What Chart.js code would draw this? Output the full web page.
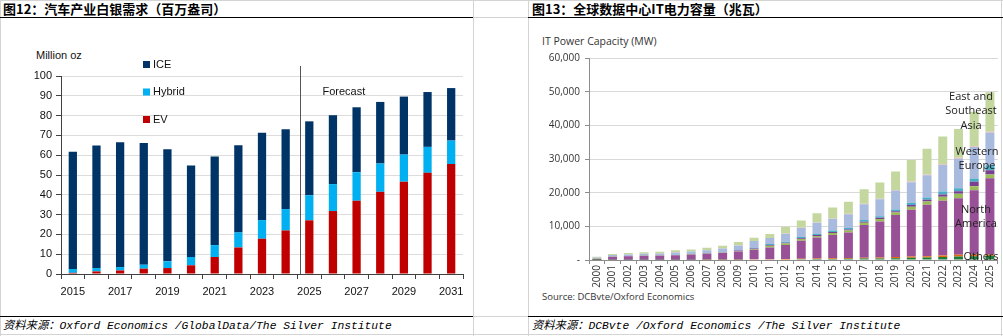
<!DOCTYPE html>
<html>
<head>
<meta charset="utf-8">
<script src="https://cdn.jsdelivr.net/npm/chart.js@4.4.0/dist/chart.umd.min.js"></script>
<style>
  body { margin: 0; background: #fff; width: 1003px; height: 336px; overflow: hidden; position: relative; }
  .abs { position: absolute; }
  .title { font-family: "Noto Sans CJK SC", sans-serif; font-weight: bold; font-size: 13px; line-height: 16px; top: 1px; color: #000; white-space: nowrap; }
  .foot { font-family: "Liberation Mono", "Noto Sans CJK SC", monospace; font-style: italic; font-size: 11.3px; line-height: 16px; top: 318px; color: #000; white-space: nowrap; }
  .grey { background: #d4d4d4; }
  .black { background: #000; }
  .note { font-family: "Open Sans", sans-serif; color: #333; white-space: nowrap; }
  canvas { position: absolute; }
</style>
</head>
<body>
  <!-- cell borders -->
  <div class="abs grey" style="left:0;top:0;width:1003px;height:1px"></div>
  <div class="abs grey" style="left:0;top:0;width:1px;height:336px"></div>
  <div class="abs grey" style="left:473px;top:0;width:1px;height:336px"></div>
  <div class="abs grey" style="left:528px;top:0;width:1px;height:336px"></div>
  <div class="abs grey" style="left:1001px;top:0;width:1px;height:336px"></div>
  <div class="abs grey" style="left:473px;top:17px;width:55px;height:1px"></div>
  <div class="abs grey" style="left:473px;top:316px;width:55px;height:1px"></div>
  <div class="abs grey" style="left:0;top:334px;width:1003px;height:1px"></div>
  <div class="abs black" style="left:0;top:17px;width:473px;height:1px"></div>
  <div class="abs black" style="left:528px;top:17px;width:475px;height:1px"></div>
  <div class="abs black" style="left:0;top:316px;width:473px;height:1px"></div>
  <div class="abs black" style="left:528px;top:316px;width:475px;height:1px"></div>

  <div class="abs title" style="left:3px">图12：汽车产业白银需求（百万盎司）</div>
  <div class="abs title" style="left:532px">图13：全球数据中心IT电力容量（兆瓦）</div>

  <div class="abs" style="left:36px;top:49px;font-family:'Liberation Sans',sans-serif;font-size:11px;color:#111">Million oz</div>
  <div class="abs note" style="left:542px;top:34px;font-size:10.5px">IT Power Capacity (MW)</div>
  <div class="abs note" style="left:542px;top:290px;font-size:9.5px">Source: DCBvte/Oxford Economics</div>

  <canvas id="silver" width="473" height="297" style="left:0;top:18px"></canvas>
  <canvas id="power" width="475" height="297" style="left:528px;top:18px"></canvas>

  <div class="abs foot" style="left:3px">资料来源：Oxford Economics /GlobalData/The Silver Institute</div>
  <div class="abs foot" style="left:532px">资料来源：DCBvte /Oxford Economics /The Silver Institute</div>

<script>
// automotive silver demand, million oz
const silverYears = ['2015', '2016', '2017', '2018', '2019', '2020', '2021', '2022', '2023',
  '2024', '2025', '2026', '2027', '2028', '2029', '2030', '2031'];
const evDemand = [0.6, 1.3, 1.8, 2.7, 3.0, 4.4, 8.6, 13.4, 17.8, 22.0, 27.1, 31.8, 37.0, 41.5, 46.6, 51.1, 55.5];
const hybridDemand = [1.9, 1.7, 1.7, 2.0, 3.4, 4.2, 6.0, 7.6, 9.4, 10.8, 12.7, 13.6, 14.4, 14.3, 13.7, 13.1, 11.9];
const iceDemand = [59.2, 61.9, 63.1, 61.5, 56.6, 46.2, 44.7, 44.0, 44.1, 40.3, 37.3, 34.8, 32.8, 31.1, 29.3, 27.7, 26.5];
const firstForecastYear = '2025';

// data centre IT power capacity by region, MW
const powerYears = ['2000', '2001', '2002', '2003', '2004', '2005', '2006', '2007', '2008', '2009',
  '2010', '2011', '2012', '2013', '2014', '2015', '2016', '2017', '2018', '2019',
  '2020', '2021', '2022', '2023', '2024', '2025'];
const othersMW = [30, 40, 40, 50, 50, 60, 70, 80, 90, 110, 130, 150, 180, 220, 260, 300, 350, 420, 480, 550, 650, 750, 900, 1050, 1150, 1250];
const oceaniaMW = [20, 30, 30, 30, 30, 40, 40, 50, 60, 70, 80, 100, 120, 140, 160, 190, 210, 250, 280, 320, 360, 380, 450, 500, 450, 400];
const northAmericaMW = [350, 930, 1010, 1200, 1200, 1280, 1560, 1740, 1920, 2380, 2840, 3500, 4140, 5370, 6290, 6910, 7630, 9700, 10690, 12460, 13900, 15260, 16220, 16810, 19130, 22630];
const latinAmericaMW = [25, 45, 55, 55, 65, 70, 80, 95, 110, 150, 220, 450, 450, 490, 450, 620, 580, 670, 710, 750, 930, 980, 1250, 1330, 1200, 1100];
const middleEastMW = [10, 25, 25, 25, 30, 40, 45, 50, 60, 80, 120, 230, 230, 250, 230, 330, 300, 350, 370, 400, 500, 520, 650, 700, 1280, 1280];
const easternEuropeMW = [15, 30, 40, 40, 45, 50, 55, 65, 80, 110, 160, 310, 310, 340, 310, 440, 410, 460, 500, 520, 640, 670, 870, 930, 980, 1470];
const westernEuropeMW = [300, 350, 450, 450, 530, 710, 650, 820, 1080, 1430, 2070, 1760, 2370, 2670, 3360, 3450, 4140, 4730, 5040, 5630, 6120, 6610, 7890, 8780, 9370, 9670];
const africaMW = [10, 10, 10, 10, 10, 20, 20, 20, 30, 40, 50, 60, 70, 80, 100, 110, 120, 140, 150, 170, 190, 200, 220, 240, 260, 280];
const eastAsiaMW = [240, 310, 410, 410, 500, 590, 630, 730, 810, 950, 930, 1140, 2000, 2190, 2760, 3250, 3540, 4310, 4780, 5460, 6420, 7700, 8270, 8550, 10180, 11770];

// left chart: hand-placed legend and the forecast divider
const silverDecor = {
  id: 'silverDecor',
  afterDraw(chart) {
    const { ctx, scales: { x, y } } = chart;
    ctx.save();
    ctx.font = '11px "Liberation Sans", Arial, sans-serif';
    ctx.textBaseline = 'middle';
    const order = [2, 1, 0];
    order.forEach((di, row) => {
      const ds = chart.data.datasets[di];
      const top = 43 + row * 27.5;
      ctx.fillStyle = ds.backgroundColor;
      ctx.fillRect(143, top, 7, 7);
      ctx.fillStyle = '#111';
      ctx.fillText(ds.label, 153, top + 3.5);
    });
    const idx = chart.data.labels.indexOf(firstForecastYear);
    const xLine = Math.round((x.getPixelForValue(idx - 1) + x.getPixelForValue(idx)) / 2) + 3.5;
    ctx.strokeStyle = '#555';
    ctx.lineWidth = 1;
    ctx.beginPath();
    ctx.moveTo(xLine, chart.chartArea.top - 10);
    ctx.lineTo(xLine, y.bottom);
    ctx.stroke();
    ctx.fillStyle = '#111';
    ctx.fillText('Forecast', xLine + 22, 74);
    ctx.restore();
  }
};

new Chart(document.getElementById('silver'), {
  type: 'bar',
  data: {
    labels: silverYears,
    datasets: [
      { label: 'EV', data: evDemand, backgroundColor: '#c00000' },
      { label: 'Hybrid', data: hybridDemand, backgroundColor: '#00b0f0' },
      { label: 'ICE', data: iceDemand, backgroundColor: '#003366' }
    ]
  },
  options: {
    responsive: false,
    animation: false,
    layout: { padding: { top: 58, right: 10, left: 0, bottom: 0 } },
    datasets: { bar: { categoryPercentage: 1, barPercentage: 0.35 } },
    plugins: { legend: { display: false }, tooltip: { enabled: false } },
    scales: {
      x: {
        stacked: true,
        grid: { offset: true, drawOnChartArea: false, tickLength: 5, tickColor: '#404040' },
        border: { color: '#404040' },
        ticks: {
          autoSkip: false, maxRotation: 0, padding: 6, color: '#111',
          font: { family: '"Liberation Sans", Arial, sans-serif', size: 11 },
          callback: (v, i) => (i % 2 === 0 ? silverYears[i] : '')
        },
        afterFit: s => { s.height = 41; }
      },
      y: {
        stacked: true, min: 0, max: 100,
        grid: { color: '#dcdcdc', tickLength: 5, tickColor: '#404040' },
        border: { color: '#404040' },
        ticks: { stepSize: 10, padding: 4, color: '#111', font: { family: '"Liberation Sans", Arial, sans-serif', size: 11 } },
        afterFit: s => { s.width = 61; }
      }
    }
  },
  plugins: [silverDecor]
});

// right chart: region names written beside the last bars
const regionNotes = [
  { lines: ['East and', 'Southeast', 'Asia'], x: 443, y: 79 },
  { lines: ['Western', 'Europe'], x: 449, y: 134 },
  { lines: ['North', 'America'], x: 448, y: 192 },
  { lines: ['Others'], x: 453, y: 239 }
];
const powerNotes = {
  id: 'powerNotes',
  afterDraw(chart) {
    const { ctx } = chart;
    ctx.save();
    ctx.font = '11px "Open Sans", sans-serif';
    ctx.fillStyle = '#222';
    ctx.textAlign = 'center';
    ctx.textBaseline = 'middle';
    regionNotes.forEach(n => n.lines.forEach((t, i) => ctx.fillText(t, n.x, n.y + i * 14.2)));
    ctx.restore();
  }
};

const powerFont = { family: '"Open Sans", sans-serif', size: 10 };
new Chart(document.getElementById('power'), {
  type: 'bar',
  data: {
    labels: powerYears,
    datasets: [
      { label: 'Others', data: othersMW, backgroundColor: '#1e7b3a' },
      { label: 'Oceania', data: oceaniaMW, backgroundColor: '#e46c0a' },
      { label: 'North America', data: northAmericaMW, backgroundColor: '#985097' },
      { label: 'Latin America', data: latinAmericaMW, backgroundColor: '#9bbb59' },
      { label: 'Middle East', data: middleEastMW, backgroundColor: '#7a4190' },
      { label: 'Eastern Europe', data: easternEuropeMW, backgroundColor: '#4bacc6' },
      { label: 'Western Europe', data: westernEuropeMW, backgroundColor: '#a8badd' },
      { label: 'Africa', data: africaMW, backgroundColor: '#e6b9b8' },
      { label: 'East and Southeast Asia', data: eastAsiaMW, backgroundColor: '#c4d79f' }
    ]
  },
  options: {
    responsive: false,
    animation: false,
    layout: { padding: { top: 40, right: 4, left: 0, bottom: 0 } },
    datasets: { bar: { categoryPercentage: 1, barPercentage: 0.57 } },
    plugins: { legend: { display: false }, tooltip: { enabled: false } },
    scales: {
      x: {
        stacked: true,
        grid: { offset: true, drawOnChartArea: false, tickLength: 4, tickColor: '#8c8c8c' },
        border: { color: '#8c8c8c' },
        ticks: { autoSkip: false, minRotation: 90, maxRotation: 90, padding: 1, color: '#333', font: powerFont },
        afterFit: s => { s.height = 55; }
      },
      y: {
        stacked: true, min: 0, max: 60000,
        grid: { color: '#d9d9d9', tickLength: 4, tickColor: '#8c8c8c' },
        border: { color: '#8c8c8c' },
        ticks: {
          stepSize: 10000, padding: 5, color: '#333', font: powerFont,
          callback: v => (v === 0 ? '-' : v.toLocaleString('en-US'))
        },
        afterFit: s => { s.width = 61; }
      }
    }
  },
  plugins: [powerNotes]
});
</script>
</body>
</html>
